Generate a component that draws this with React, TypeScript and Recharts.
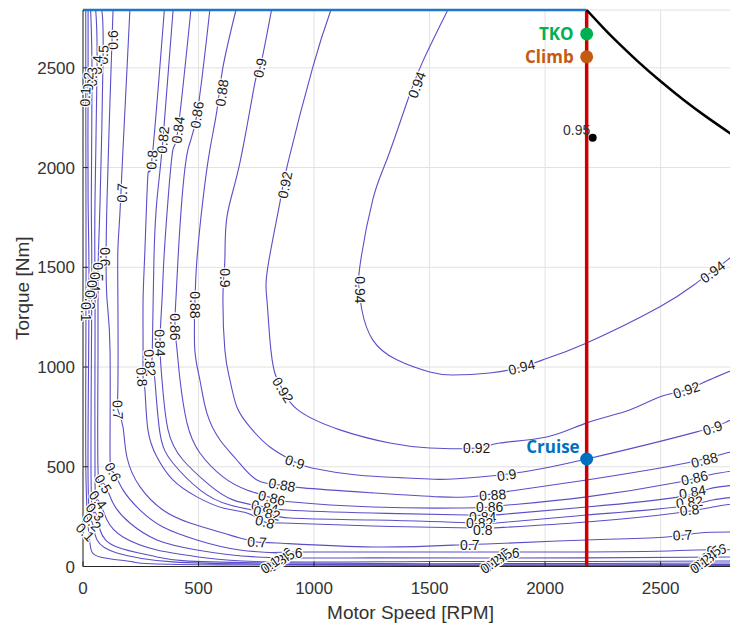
import React from 'react';
import { ComposedChart, Line, Scatter, XAxis, YAxis, CartesianGrid, Label } from 'recharts';

// Axis setup
const xTicks = [0, 500, 1000, 1500, 2000, 2500];
const yTicks = [0, 500, 1000, 1500, 2000, 2500];
const speedMax = 2835;
const torqueMax = 2790;

// Efficiency contours: [speed RPM, torque Nm]
const eff094 = [[1579,2790],[1470,2530],[1401,2324],[1315,2039],[1254,1838],[1198,1502],[1196,1387],[1207,1286],[1254,1136],[1358,1036],[1501,975],[1600,960],[1760,970],[1899,1000],[1990,1036],[2180,1121],[2495,1301],[2656,1422],[2790,1537],[2835,1587]];
const eff092 = [[1073,2790],[995,2505],[887,2024],[852,1823],[800,1502],[796,1337],[809,1136],[830,970],[865,885],[930,785],[1112,685],[1328,619],[1501,594],[1704,594],[1803,619],[2007,649],[2180,720],[2366,785],[2495,850],[2612,885],[2681,920],[2835,996]];
const eff090 = [[816,2790],[766,2500],[744,2425],[679,2024],[623,1753],[614,1537],[606,1372],[614,1086],[636,935],[666,800],[722,700],[809,599],[917,524],[990,494],[1185,459],[1401,444],[1544,437],[1717,449],[1903,474],[2180,539],[2656,675],[2785,725],[2835,745]];
const eff088 = [[662,2790],[606,2505],[580,2289],[549,2089],[519,1838],[493,1537],[484,1311],[484,1086],[506,935],[536,770],[593,634],[666,534],[753,434],[852,409],[952,394],[1254,369],[1544,349],[1700,352],[1860,380],[2180,434],[2612,519],[2785,569],[2835,574]];
const eff086 = [[549,2790],[493,2264],[454,2089],[428,1838],[411,1537],[402,1337],[398,1201],[407,1086],[420,935],[450,720],[506,569],[606,449],[709,384],[817,344],[908,323],[1254,298],[1618,293],[1760,298],[1838,308],[2180,349],[2582,424],[2647,444],[2755,469],[2835,484]];
const eff084 = [[467,2790],[411,2189],[389,2089],[368,1838],[350,1537],[342,1337],[333,1121],[342,935],[368,685],[433,534],[536,419],[649,334],[787,298],[882,283],[1254,268],[1661,258],[1803,260],[2180,298],[2582,349],[2712,390],[2835,409]];
const eff082 = [[390,2790],[346,2139],[320,1838],[307,1537],[300,1086],[298,1021],[311,935],[333,670],[389,519],[506,384],[636,308],[796,268],[895,243],[1254,233],[1674,218],[1790,218],[2180,258],[2569,298],[2725,333],[2835,349]];
const eff080 = [[352,2790],[298,2039],[281,1963],[268,1587],[260,1337],[260,1086],[260,950],[268,885],[281,685],[320,549],[389,434],[493,349],[606,293],[709,268],[787,223],[865,218],[1254,203],[1687,193],[1773,193],[2180,223],[2569,268],[2725,298],[2835,318]];
const eff070 = [[203,2790],[173,2089],[160,1773],[151,1587],[151,1337],[151,900],[151,785],[173,700],[190,549],[247,399],[346,283],[463,218],[606,168],[679,143],[753,123],[839,118],[1254,98],[1618,108],[1747,113],[2180,133],[2526,148],[2668,168],[2835,173]];
const eff060 = [[130,2790],[117,2339],[104,1838],[100,1552],[104,1337],[117,1086],[117,569],[130,474],[173,384],[247,283],[346,198],[493,133],[679,83],[839,68],[982,73],[2180,73],[2656,83],[2835,83]];
const eff050 = [[81,2790],[87,2565],[74,1838],[65,1477],[65,1086],[65,484],[87,419],[130,318],[203,218],[320,133],[493,83],[753,48],[1254,43],[2180,43],[2835,48]];
const eff040 = [[55,2790],[61,2515],[52,1838],[52,1427],[52,1086],[52,434],[65,334],[104,233],[173,148],[320,83],[536,43],[822,23],[1500,25],[2180,25],[2835,28]];
const eff030 = [[33,2790],[39,2455],[36,1838],[38,1387],[35,434],[52,273],[74,183],[147,98],[320,48],[753,18],[2180,15],[2835,18]];
const eff020 = [[22,2790],[22,2430],[22,1838],[26,1337],[22,434],[39,223],[61,133],[147,68],[389,23],[1000,10],[2180,9],[2835,10]];
const eff010 = [[12,2790],[12,2355],[13,1337],[13,434],[30,118],[74,48],[216,23],[600,8],[2180,5],[2835,5]];

const contourSets = [eff094, eff092, eff090, eff088, eff086, eff084, eff082, eff080, eff070, eff060, eff050, eff040, eff030, eff020, eff010];

// Contour labels: [text, speed, torque, angle]
const contourLabels: [string, number, number, number][] = [
  ['0.94', 1445, 2415, -69], ['0.94', 1198, 1387, 90], ['0.94', 1899, 1000, -14], ['0.94', 2725, 1477, -37],
  ['0.92', 874, 1913, -79], ['0.92', 865, 885, 58], ['0.92', 1704, 594, 0], ['0.92', 2612, 885, -18],
  ['0.9', 766, 2500, -78], ['0.9', 614, 1447, 90], ['0.9', 917, 524, 18], ['0.9', 1834, 459, -8], ['0.9', 2725, 695, -18],
  ['0.88', 601, 2375, -82], ['0.88', 484, 1311, 90], ['0.88', 861, 409, 10], ['0.88', 1773, 359, -4], ['0.88', 2690, 534, -14],
  ['0.86', 493, 2264, -82], ['0.86', 398, 1201, 90], ['0.86', 817, 344, 14], ['0.86', 1760, 298, 0], ['0.86', 2647, 444, -12],
  ['0.84', 411, 2189, -83], ['0.84', 333, 1121, 88], ['0.84', 787, 298, 11], ['0.84', 1730, 248, 0], ['0.84', 2638, 374, -10],
  ['0.82', 346, 2139, -84], ['0.82', 290, 1021, 85], ['0.82', 796, 268, 12], ['0.82', 1717, 218, 0], ['0.82', 2625, 323, -6],
  ['0.8', 298, 2039, -85], ['0.8', 255, 950, 85], ['0.8', 787, 223, 15], ['0.8', 1730, 183, 0], ['0.8', 2625, 283, -6],
  ['0.7', 169, 1873, -88], ['0.7', 151, 785, 88], ['0.7', 753, 123, 3], ['0.7', 1674, 108, 0], ['0.7', 2595, 158, -3],
  ['0.6', 130, 2640, -90], ['0.6', 95, 1552, 90], ['0.6', 130, 474, 62], ['0.6', 908, 68, 0], ['0.6', 1847, 68, 0], ['0.6', 2742, 83, -10],
  ['0.5', 87, 2565, -88], ['0.5', 65, 1477, 90], ['0.5', 87, 414, 58], ['0.5', 874, 43, -35], ['0.5', 1816, 48, -35], ['0.5', 2720, 63, -35],
  ['0.4', 61, 2515, -88], ['0.4', 52, 1427, 90], ['0.4', 65, 334, 52], ['0.4', 852, 28, -35], ['0.4', 1795, 33, -35], ['0.4', 2703, 43, -35],
  ['0.3', 39, 2455, -88], ['0.3', 39, 1387, 90], ['0.3', 52, 273, 48], ['0.3', 839, 18, -35], ['0.3', 1782, 23, -35], ['0.3', 2690, 28, -35],
  ['0.2', 22, 2430, -88], ['0.2', 30, 1337, 90], ['0.2', 39, 223, 45], ['0.2', 822, 13, -35], ['0.2', 1769, 13, -35], ['0.2', 2677, 18, -35],
  ['0.1', 9, 2355, -88], ['0.1', 13, 1277, 90], ['0.1', 9, 173, 45], ['0.1', 809, 8, -35], ['0.1', 1760, 8, -35], ['0.1', 2668, 8, -35],
];

// Operating envelope
const maxTorqueLine = [[0, 2790], [2180, 2790]];
const powerLimitCurve = [[2180, 2790], [2250, 2703], [2300, 2644], [2400, 2534], [2500, 2433], [2600, 2339], [2700, 2253], [2835, 2145]];
const designSpeedLine = [[2180, 0], [2180, 2790]];

// Operating points
const pointNames = ['TKO', 'Climb', 'Cruise'];
const pointSpeeds = [2180, 2180, 2180];
const pointTorques = [2670, 2555, 539];
const peakEff = { text: '0.95', x: 2206, y: 2149 };

const toXY = (pts: number[][]) => pts.map(([x, y]) => ({ x, y }));

const CONTOUR = '#5a4fc8';
const pointColors: Record<string, string> = { TKO: '#00b050', Climb: '#c55a11', Cruise: '#0070c0' };
const FONT = '"Liberation Sans", Arial, Helvetica, sans-serif';

const labelData = contourLabels.map(([t, x, y, a]) => ({ t, x, y, a }));
const opData = pointNames.map((name, i) => ({ name, x: pointSpeeds[i], y: pointTorques[i] }));

const ContourLabel = (props: any) => {
  const { cx, cy, payload } = props;
  if (cx == null || cy == null) return null;
  return (
    <text
      x={cx}
      y={cy}
      textAnchor="middle"
      dominantBaseline="central"
      transform={`rotate(${payload.a} ${cx} ${cy})`}
      fontSize={14}
      fontFamily={FONT}
      fill="#1a1a1a"
      stroke="#ffffff"
      strokeWidth={2.5}
      strokeLinejoin="round"
      paintOrder="stroke"
    >
      {payload.t}
    </text>
  );
};

const OpPoint = (props: any) => {
  const { cx, cy, payload } = props;
  const color = pointColors[payload.name];
  const cruise = payload.name === 'Cruise';
  return (
    <g>
      <circle cx={cx} cy={cy} r={6.5} fill={color} />
      <text
        x={cx - (cruise ? 7 : 13)}
        y={cy - (cruise ? 12 : 0)}
        textAnchor="end"
        dominantBaseline="central"
        fill={color}
        fontFamily='"Open Sans", sans-serif'
        fontWeight={700}
        fontSize={17}
      >
        {payload.name}
      </text>
    </g>
  );
};

const PeakPoint = (props: any) => {
  const { cx, cy, payload } = props;
  return (
    <g>
      <text x={cx - 16} y={cy - 8} textAnchor="middle" dominantBaseline="central" fontSize={14} fontFamily={FONT} fill="#333">
        {payload.text}
      </text>
      <circle cx={cx} cy={cy} r={4} fill="#000" />
    </g>
  );
};

export default function App() {
  return (
    <div style={{ width: 730, height: 615, background: '#fff' }}>
      <ComposedChart width={730} height={615} margin={{ top: 2, right: 0, left: 0, bottom: 0 }}>
        <CartesianGrid stroke="#e2e2e2" strokeWidth={1} />
        <XAxis
          type="number"
          dataKey="x"
          domain={[0, speedMax]}
          ticks={xTicks}
          height={56.5}
          tickSize={-5}
          tickMargin={20.5}
          stroke="#262626"
          tick={{ fill: '#333', fontSize: 17, fontFamily: FONT }}
          axisLine={{ stroke: '#262626' }}
          tickLine={{ stroke: '#262626' }}
        >
          <Label
            content={(p: any) => {
              const vb = p.viewBox;
              return (
                <text x={vb.x + vb.width / 2} y={vb.y + 45.5} textAnchor="middle" dominantBaseline="central" fontSize={19} fontFamily={FONT} fill="#333">
                  Motor Speed [RPM]
                </text>
              );
            }}
          />
        </XAxis>
        <YAxis
          type="number"
          dataKey="y"
          domain={[0, torqueMax]}
          ticks={yTicks}
          width={75}
          tickSize={-5}
          tickMargin={13}
          stroke="#262626"
          tick={{ fill: '#333', fontSize: 17, fontFamily: FONT }}
          axisLine={{ stroke: '#262626' }}
          tickLine={{ stroke: '#262626' }}
        >
          <Label
            content={(p: any) => {
              const vb = p.viewBox;
              const cx = vb.x + 14;
              const cy = vb.y + vb.height / 2;
              return (
                <text x={cx} y={cy} transform={`rotate(-90 ${cx} ${cy})`} textAnchor="middle" dominantBaseline="central" fontSize={19} fontFamily={FONT} fill="#333">
                  Torque [Nm]
                </text>
              );
            }}
          />
        </YAxis>
        {contourSets.map((pts, i) => (
          <Line
            key={'c' + i}
            data={toXY(pts)}
            dataKey="y"
            type="natural"
            stroke={CONTOUR}
            strokeWidth={1.1}
            dot={false}
            activeDot={false}
            isAnimationActive={false}
          />
        ))}
        <Scatter data={labelData} shape={ContourLabel} isAnimationActive={false} />
        <Line data={toXY(designSpeedLine)} dataKey="y" type="linear" stroke="#cc0000" strokeWidth={3.5} dot={false} activeDot={false} isAnimationActive={false} />
        <Line data={toXY(maxTorqueLine)} dataKey="y" type="linear" stroke="#1e78c8" strokeWidth={2.5} dot={false} activeDot={false} isAnimationActive={false} />
        <Line data={toXY(powerLimitCurve)} dataKey="y" type="natural" stroke="#000" strokeWidth={2.5} dot={false} activeDot={false} isAnimationActive={false} />
        <Scatter data={[peakEff]} shape={PeakPoint} isAnimationActive={false} />
        <Scatter data={opData} shape={OpPoint} isAnimationActive={false} />
      </ComposedChart>
    </div>
  );
}
